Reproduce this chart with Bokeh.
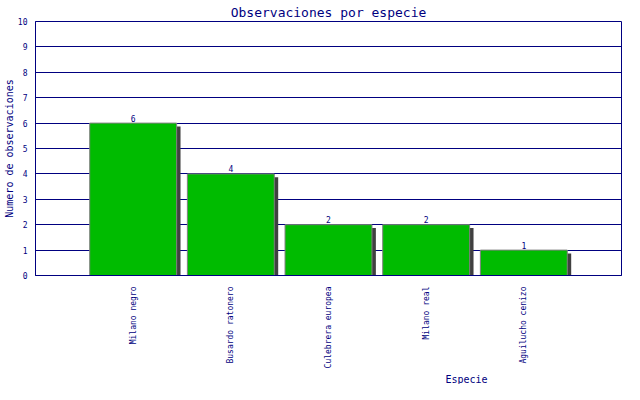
import math
from bokeh.plotting import figure
from bokeh.models import Range1d, FactorRange, Title, ColumnDataSource
from bokeh.transform import dodge
from bokeh.core.properties import value
from bokeh.embed import file_html
from bokeh.resources import INLINE

# Data
categories = ["Milano negro", "Busardo ratonero", "Culebrera europea", "Milano real", "Aguilucho cenizo"]
counts = [6, 4, 2, 2, 1]
title_text = "Observaciones por especie"
x_title = "Especie"
y_title = "Numero de observaciones"

NAVY = "#000080"
FONT = "DejaVu Sans Mono"

src = ColumnDataSource(dict(cat=categories, val=counts, lab=[str(c) for c in counts]))

p = figure(width=624, height=384, output_backend="svg", toolbar_location=None,
           x_range=FactorRange(factors=categories, range_padding=0.5, range_padding_units="absolute"),
           y_range=Range1d(0, 10),
           min_border_left=31, min_border_right=3, min_border_top=20, min_border_bottom=91,
           tools="")

p.title.text = title_text
p.title.align = "center"
p.title.text_font = FONT
p.title.text_font_size = "13px"
p.title.text_font_style = "normal"
p.title.text_color = NAVY
p.title.standoff = 4
p.title.offset = 0

p.background_fill_color = "white"
p.border_fill_color = "white"
p.outline_line_color = NAVY
p.outline_line_width = 1

# shadows
p.vbar(x=dodge("cat", 0.04, range=p.x_range), top=dodge("val", -0.13), bottom=0, width=0.89,
       source=src, fill_color="#404040", line_color=None)
# bars
p.vbar(x="cat", top="val", bottom=0, width=0.89, source=src,
       fill_color="#00BB00", line_color="#808080", line_width=1)
# value labels
p.text(x="cat", y="val", text="lab", source=src, text_align="center", text_baseline="alphabetic",
       y_offset=-5, text_font=value(FONT), text_font_size="8px", text_color=NAVY)

p.xgrid.grid_line_color = None
p.ygrid.grid_line_color = NAVY
p.ygrid.grid_line_width = 1
p.ygrid.level = "underlay"

for ax in (p.xaxis[0], p.yaxis[0]):
    ax.axis_line_color = NAVY
    ax.major_tick_line_color = None
    ax.minor_tick_line_color = None
    ax.major_label_text_font = FONT
    ax.major_label_text_font_size = "8px"
    ax.major_label_text_color = NAVY

p.yaxis[0].ticker = list(range(0, 11))
p.yaxis[0].major_label_standoff = 2
p.yaxis[0].axis_label = y_title
p.yaxis[0].axis_label_text_font = FONT
p.yaxis[0].axis_label_text_font_size = "10px"
p.yaxis[0].axis_label_text_font_style = "normal"
p.yaxis[0].axis_label_text_color = NAVY
p.yaxis[0].axis_label_standoff = 0
p.xaxis[0].major_label_orientation = math.pi / 2
p.xaxis[0].major_label_standoff = 5

xt = Title(text=x_title, align="left", offset=410, standoff=0, text_font=FONT,
           text_font_size="10px", text_font_style="normal", text_color=NAVY)
p.add_layout(xt, "below")

open("out.html", "w").write(file_html(p, INLINE))
